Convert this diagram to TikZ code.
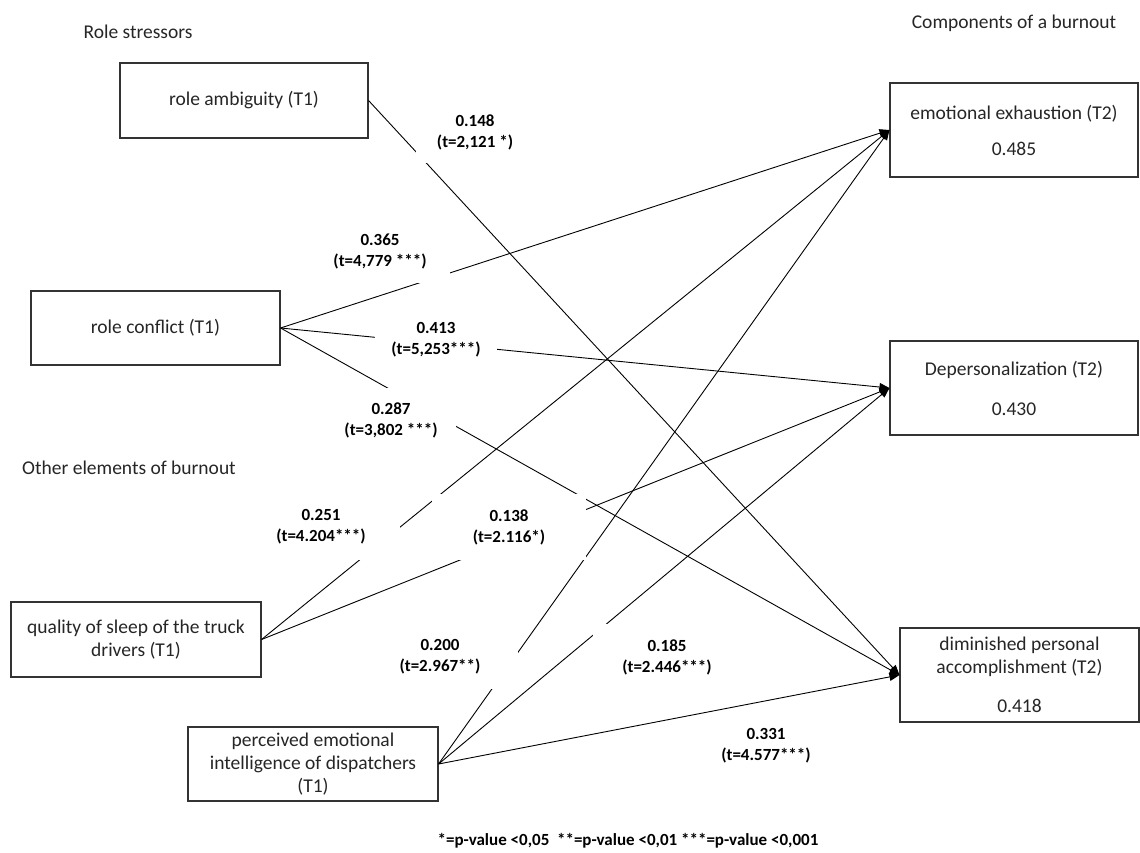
\documentclass[tikz,border=0pt]{standalone}
\usepackage{fontspec}
\setmainfont{Carlito}
\usetikzlibrary{arrows.meta}
\begin{document}
\begin{tikzpicture}[x=1pt,y=-1pt,
  every node/.style={text=black!85, inner sep=0pt},
  box/.style={draw=black!80, line width=1.1pt, fill=white, align=center,
    font=\fontsize{19.5}{23}\selectfont},
  heading/.style={font=\fontsize{19.5}{23}\selectfont},
  coef/.style={fill=white, align=center, text=black,
    font=\bfseries\fontsize{17}{21}\selectfont},
  conn/.style={draw=black, line width=0.9pt, -{Triangle[length=10pt,width=8pt]}}
]
\useasboundingbox (0,0) rectangle (1140,853);

% group headings
\node[heading] (hstress) at (138,32) {Role stressors};
\node[heading] (hcomp) at (1014,23) {Components of a burnout};
\node[heading] (hother) at (129,468) {Other elements of burnout};

% predictors (T1)
\node[box, minimum width=248pt, minimum height=75pt] (ra) at (244,100.5) {role ambiguity (T1)};
\node[box, minimum width=249pt, minimum height=74pt] (rc) at (155.5,328) {role conflict (T1)};
\node[box, minimum width=250pt, minimum height=75pt] (qs) at (136,639.5)
  {quality of sleep of the truck\\drivers (T1)};
\node[box, minimum width=250pt, minimum height=74pt] (pei) at (313,764)
  {perceived emotional\\intelligence of dispatchers\\(T1)};

% burnout components (T2)
\node[box, minimum width=248pt, minimum height=94pt] (ee) at (1014,130)
  {emotional exhaustion (T2)\\[13pt]0.485};
\node[box, minimum width=248pt, minimum height=94pt] (dep) at (1014,388)
  {Depersonalization (T2)\\[17pt]0.430};
\node[box, minimum width=239pt, minimum height=94pt] (dpa) at (1019.5,675)
  {diminished personal\\accomplishment (T2)\\[16pt]0.418};

% structural paths
\draw[conn] (ra.east) -- (dpa.west);
\draw[conn] (rc.east) -- (ee.west);
\draw[conn] (rc.east) -- (dep.west);
\draw[conn] (rc.east) -- (dpa.west);
\draw[conn] (qs.east) -- (ee.west);
\draw[conn] (qs.east) -- (dep.west);
\draw[conn] (pei.east) -- (ee.west);
\draw[conn] (pei.east) -- (dep.west);
\draw[conn] (pei.east) -- (dpa.west);

% path coefficients on opaque text boxes
\node[coef, minimum width=118pt, minimum height=62pt] (c148) at (475,132) {0.148\\(t=2,121 *)};
\node[coef, minimum width=140pt, minimum height=64pt] (c365) at (380,251) {0.365\\(t=4,779 ***)};
\node[coef, minimum width=122pt, minimum height=60pt] (c413) at (436,340) {0.413\\(t=5,253***)};
\node[coef, minimum width=130pt, minimum height=64pt] (c287) at (391,420) {0.287\\(t=3,802 ***)};
\node[coef, minimum width=158pt, minimum height=66pt] (c251) at (321,527) {0.251\\(t=4.204***)};
\node[coef, minimum width=154pt, minimum height=66pt] (c138) at (509,527) {0.138\\(t=2.116*)};
\node[coef, minimum width=156pt, minimum height=64pt] (c200) at (440,657) {0.200\\(t=2.967**)};
\node[coef, minimum width=148pt, minimum height=66pt] (c185) at (667,657) {0.185\\(t=2.446***)};
\node[coef, minimum width=120pt, minimum height=44pt] (c331) at (766,746) {0.331\\(t=4.577***)};

% significance legend
\node[coef] (legend) at (628,841) {*=p-value <0,05\ \ **=p-value <0,01 ***=p-value <0,001};
\end{tikzpicture}
\end{document}
